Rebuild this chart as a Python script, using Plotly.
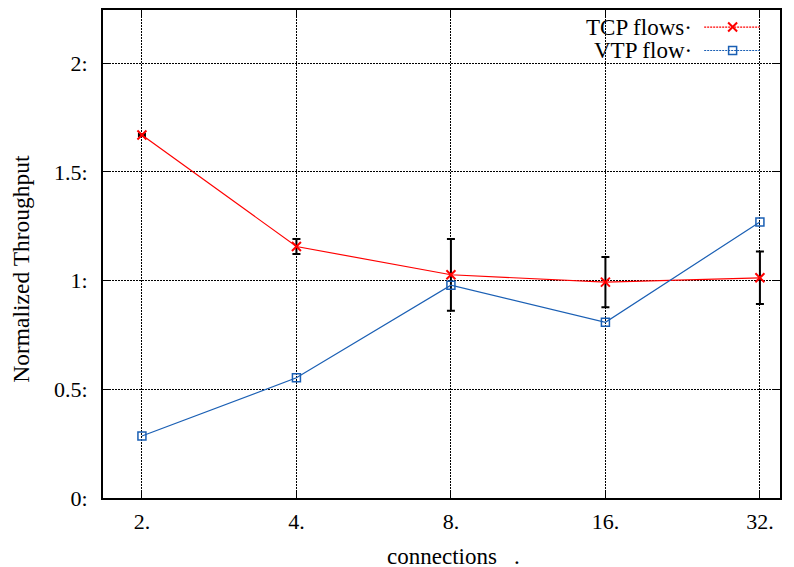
import math
import plotly.graph_objects as go

connections = [2, 4, 8, 16, 32]
x_tick_labels = ["2.", "4.", "8.", "16.", "32."]
tcp_flows = [1.67, 1.157, 1.027, 0.993, 1.013]
tcp_err = [0.005, 0.034, 0.165, 0.116, 0.121]
vtp_flow = [0.285, 0.553, 0.979, 0.808, 1.27]
y_tick_vals = [0, 0.5, 1, 1.5, 2]
y_tick_labels = ["0:", "0.5:", "1:", "1.5:", "2:"]
legend_names = ["TCP flows·", "VTP flow·"]
x_title = "connections&nbsp;&nbsp;&nbsp;."
y_title = "Normalized Throughput"

RED = "#ff0000"
BLUE = "#1a5fb4"
FONT = "Liberation Serif"
FS = 22

fig = go.Figure()
fig.add_trace(go.Scatter(
    x=connections, y=tcp_flows, mode="lines+markers",
    line=dict(color=RED, width=1.2),
    marker=dict(symbol="x-thin", size=9, line=dict(color=RED, width=2)),
    error_y=dict(type="data", array=tcp_err, visible=True, color="black",
                 thickness=2, width=4),
    showlegend=False,
))
fig.add_trace(go.Scatter(
    x=connections, y=vtp_flow, mode="lines+markers",
    line=dict(color=BLUE, width=1.2),
    marker=dict(symbol="square-open", size=8, color=BLUE, line=dict(color=BLUE, width=1.5)),
    showlegend=False,
))

# manual legend (text left of sample), on an overlay axis spanning the paper
leg_y = [0.965, 0.917]
for name, yy, col, sym in [(legend_names[0], leg_y[0], RED, "x-thin"),
                           (legend_names[1], leg_y[1], BLUE, "square-open")]:
    fig.add_trace(go.Scatter(
        x=[0.888, 0.970], y=[yy, yy], xaxis="x2", yaxis="y2", mode="lines",
        line=dict(color=col, width=1.2, dash="2px,1px"), showlegend=False, hoverinfo="skip"))
    fig.add_trace(go.Scatter(
        x=[0.930], y=[yy], xaxis="x2", yaxis="y2", mode="markers",
        marker=dict(symbol=sym, size=9 if sym == "x-thin" else 8, color=col,
                    line=dict(color=col, width=2 if sym == "x-thin" else 1.5)),
        showlegend=False, hoverinfo="skip"))
    fig.add_annotation(x=0.873, y=yy, xref="paper", yref="paper", text=name,
                       showarrow=False, xanchor="right", yanchor="middle",
                       font=dict(family=FONT, size=23, color="black"))

# axis titles as annotations, placed like the reference
fig.add_annotation(x=0.517, y=-0.1195, xref="paper", yref="paper", text=x_title,
                   showarrow=False, xanchor="center", yanchor="middle", height=20,
                   font=dict(family=FONT, size=23, color="black"))
fig.add_annotation(x=-0.121, y=0.47, xref="paper", yref="paper", text=y_title,
                   showarrow=False, textangle=-90, xanchor="center", yanchor="middle",
                   font=dict(family=FONT, size=23.5, color="black"))

xr = [math.log10(2 ** 0.748), math.log10(2 ** 5.13)]
fig.update_layout(
    width=794, height=567,
    margin=dict(l=103, r=14, t=10, b=69),
    paper_bgcolor="white", plot_bgcolor="white",
    font=dict(family=FONT, size=FS, color="black"),
    xaxis=dict(
        type="log", range=xr, tickvals=connections, ticktext=x_tick_labels,
        showgrid=True, gridcolor="black", griddash="2px,1px", gridwidth=1.3,
        showline=True, linecolor="black", linewidth=1.8, mirror="all",
        ticks="inside", ticklen=8, tickcolor="black", zeroline=False,
        ticklabelstandoff=3, tickfont=dict(family=FONT, size=FS),
        automargin=False,
    ),
    yaxis=dict(
        range=[0, 2.245], tickvals=y_tick_vals, ticktext=y_tick_labels,
        showgrid=True, gridcolor="black", griddash="2px,1px", gridwidth=1.3,
        showline=True, linecolor="black", linewidth=1.8, mirror="all",
        ticks="inside", ticklen=8, tickcolor="black", zeroline=False,
        ticklabelstandoff=9, tickfont=dict(family=FONT, size=FS),
        automargin=False,
    ),
    xaxis2=dict(overlaying="x", range=[0, 1], visible=False, fixedrange=True),
    yaxis2=dict(overlaying="y", range=[0, 1], visible=False, fixedrange=True),
)
fig.write_html("out.html")
